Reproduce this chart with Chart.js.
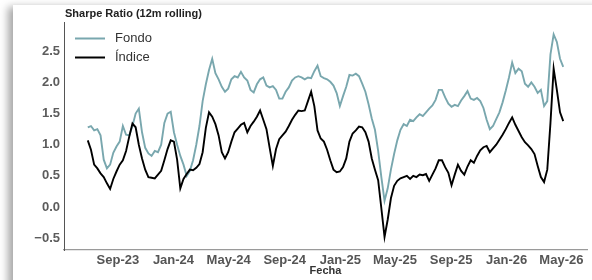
<!DOCTYPE html>
<html>
<head>
<meta charset="utf-8">
<script src="https://cdn.jsdelivr.net/npm/chart.js@4.4.1/dist/chart.umd.min.js"></script>
<style>
  html, body { margin: 0; padding: 0; background: #fff; width: 592px; height: 280px; overflow: hidden; }
  .card { position: absolute; left: 13px; top: 5px; width: 600px; height: 300px; background: #fff;
          box-shadow: -5px 2px 8px rgba(0,0,0,0.35); }
  .wrap { position: absolute; left: 0; top: 0; width: 592px; height: 280px; }
</style>
</head>
<body>
<div class="card"></div>
<div class="wrap"><canvas id="c" width="592" height="280"></canvas></div>
<script>
const chartTitle = 'Sharpe Ratio (12m rolling)';
const xAxisTitle = 'Fecha';
const seriesNames = ['Fondo', 'Índice'];

const dates = [
 '2023-06-27','2023-07-04','2023-07-11','2023-07-18','2023-07-25','2023-08-01','2023-08-08','2023-08-15','2023-08-22','2023-08-29',
 '2023-09-05','2023-09-12','2023-09-19','2023-09-26','2023-10-03','2023-10-10','2023-10-17','2023-10-24','2023-10-31','2023-11-07',
 '2023-11-14','2023-11-21','2023-11-28','2023-12-05','2023-12-12','2023-12-19','2023-12-26','2024-01-02','2024-01-09','2024-01-16',
 '2024-01-23','2024-01-30','2024-02-06','2024-02-13','2024-02-20','2024-02-27','2024-03-05','2024-03-12','2024-03-19','2024-03-26',
 '2024-04-02','2024-04-09','2024-04-16','2024-04-23','2024-04-30','2024-05-07','2024-05-14','2024-05-21','2024-05-28','2024-06-04',
 '2024-06-11','2024-06-18','2024-06-25','2024-07-02','2024-07-09','2024-07-16','2024-07-23','2024-07-30','2024-08-06','2024-08-13',
 '2024-08-20','2024-08-27','2024-09-03','2024-09-10','2024-09-17','2024-09-24','2024-10-01','2024-10-08','2024-10-15','2024-10-22',
 '2024-10-29','2024-11-05','2024-11-12','2024-11-19','2024-11-26','2024-12-03','2024-12-10','2024-12-17','2024-12-24','2024-12-31',
 '2025-01-07','2025-01-14','2025-01-21','2025-01-28','2025-02-04','2025-02-11','2025-02-18','2025-02-25','2025-03-04','2025-03-11',
 '2025-03-18','2025-03-25','2025-04-01','2025-04-08','2025-04-15','2025-04-22','2025-04-29','2025-05-06','2025-05-13','2025-05-20',
 '2025-05-27','2025-06-03','2025-06-10','2025-06-17','2025-06-24','2025-07-01','2025-07-08','2025-07-15','2025-07-22','2025-07-29',
 '2025-08-05','2025-08-12','2025-08-19','2025-08-26','2025-09-02','2025-09-09','2025-09-16','2025-09-23','2025-09-30','2025-10-07',
 '2025-10-14','2025-10-21','2025-10-28','2025-11-04','2025-11-11','2025-11-18','2025-11-25','2025-12-02','2025-12-09','2025-12-16',
 '2025-12-23','2025-12-30','2026-01-06','2026-01-13','2026-01-20','2026-01-27','2026-02-03','2026-02-10','2026-02-17','2026-02-24',
 '2026-03-03','2026-03-10','2026-03-17','2026-03-24','2026-03-31','2026-04-07','2026-04-14','2026-04-21','2026-04-28','2026-05-05'
];

const fondo = [
 1.28,1.30,1.23,1.25,1.15,0.76,0.62,0.68,0.87,0.97,
 1.05,1.30,1.16,1.15,1.30,1.50,1.58,1.20,0.95,0.86,
 0.82,0.90,0.88,1.00,1.35,1.50,1.53,1.20,1.00,0.82,
 0.68,0.50,0.58,0.75,1.00,1.30,1.70,1.97,2.20,2.38,
 2.15,2.05,1.93,1.85,1.90,2.05,2.10,2.08,2.17,2.08,
 2.03,1.88,1.84,1.97,2.05,2.08,1.95,1.92,1.94,1.88,
 1.74,1.74,1.85,1.92,2.03,2.08,2.10,2.08,2.05,2.08,
 2.07,2.18,2.27,2.10,2.07,2.05,2.01,1.95,1.83,1.62,
 1.78,1.93,2.12,2.11,2.14,2.10,1.98,1.85,1.65,1.42,
 1.24,0.90,0.48,0.10,0.30,0.60,0.85,1.07,1.24,1.33,
 1.30,1.40,1.38,1.44,1.49,1.46,1.52,1.58,1.63,1.72,
 1.88,1.88,1.76,1.66,1.61,1.64,1.62,1.71,1.78,1.86,
 1.74,1.72,1.75,1.70,1.59,1.40,1.25,1.30,1.41,1.52,
 1.68,1.87,2.08,2.32,2.15,2.22,2.18,1.98,1.93,2.00,
 1.93,1.83,1.88,1.62,1.70,2.45,2.77,2.65,2.38,2.25
];

const indice = [
 1.07,0.92,0.68,0.62,0.54,0.48,0.38,0.29,0.45,0.57,
 0.68,0.75,0.90,1.13,1.34,1.28,1.00,0.78,0.60,0.48,
 0.47,0.46,0.52,0.58,0.75,0.93,1.07,1.05,0.76,0.30,
 0.45,0.53,0.60,0.59,0.63,0.69,0.88,1.27,1.52,1.45,
 1.33,1.15,0.88,0.78,0.88,1.05,1.20,1.26,1.32,1.35,
 1.20,1.30,1.37,1.45,1.55,1.40,1.25,0.95,0.66,0.93,
 1.09,1.15,1.21,1.30,1.40,1.48,1.55,1.54,1.55,1.70,
 1.85,1.62,1.23,1.10,1.05,0.92,0.75,0.60,0.56,0.57,
 0.64,0.78,1.05,1.18,1.23,1.29,1.28,1.20,1.05,0.78,
 0.60,0.43,-0.02,-0.48,-0.20,0.14,0.34,0.42,0.46,0.48,
 0.50,0.45,0.50,0.48,0.52,0.51,0.53,0.42,0.52,0.62,
 0.75,0.75,0.64,0.55,0.35,0.52,0.68,0.58,0.52,0.65,
 0.75,0.71,0.82,0.91,0.96,0.98,0.88,0.94,1.00,1.08,
 1.16,1.25,1.35,1.44,1.32,1.22,1.12,1.04,0.99,0.93,
 0.85,0.66,0.48,0.40,0.60,1.35,2.22,1.88,1.52,1.38
];

const tickDates  = ['2023-09-01','2024-01-01','2024-05-01','2024-09-01','2025-01-01','2025-05-01','2025-09-01','2026-01-01','2026-05-01'];
const tickLabels = ['Sep-23','Jan-24','May-24','Sep-24','Jan-25','May-25','Sep-25','Jan-26','May-26'];
const yTicks = [-0.5, 0, 0.5, 1.0, 1.5, 2.0, 2.5];

const toDay = s => Date.parse(s + 'T00:00:00Z') / 86400000;
const xs = dates.map(toDay);
const span = xs[xs.length - 1] - xs[0];
const xMin = xs[0] - 0.05 * span, xMax = xs[xs.length - 1] + 0.05 * span;

const FONT = '"Liberation Sans", Arial, sans-serif';
const colors = ['#79a7ae', '#000000'];

const overlay = {
  id: 'overlay',
  afterDraw(chart) {
    const ctx = chart.ctx, a = chart.chartArea;
    ctx.save();
    ctx.fillStyle = '#222';
    ctx.font = 'bold 11px ' + FONT;
    ctx.textBaseline = 'middle';
    ctx.textAlign = 'left';
    ctx.fillText(chartTitle, a.left + 1, 13.5);
    ctx.font = '13px ' + FONT;
    const rows = [38.5, 57.5];
    chart.data.datasets.forEach((ds, i) => {
      const y = rows[i];
      ctx.strokeStyle = ds.borderColor;
      ctx.lineWidth = 2;
      ctx.beginPath();
      ctx.moveTo(a.left + 11, y);
      ctx.lineTo(a.left + 41, y);
      ctx.stroke();
      ctx.fillStyle = '#333';
      ctx.fillText(ds.label, a.left + 51, y);
    });
    ctx.restore();
  }
};

new Chart(document.getElementById('c'), {
  type: 'line',
  data: {
    datasets: [
      { label: seriesNames[0], data: xs.map((x, i) => ({ x, y: fondo[i] })), borderColor: colors[0], borderWidth: 1.9, pointRadius: 0, tension: 0, order: 1 },
      { label: seriesNames[1], data: xs.map((x, i) => ({ x, y: indice[i] })), borderColor: colors[1], borderWidth: 1.9, pointRadius: 0, tension: 0, order: 0 }
    ]
  },
  options: {
    responsive: false,
    animation: false,
    devicePixelRatio: 1,
    layout: { padding: { top: 22, right: 5, left: 0, bottom: 0 } },
    plugins: { legend: { display: false }, tooltip: { enabled: false }, title: { display: false } },
    scales: {
      x: {
        type: 'linear', min: xMin, max: xMax,
        afterFit: s => { s.height = 30; },
        afterBuildTicks: s => { s.ticks = tickDates.map(d => ({ value: toDay(d) })); },
        grid: { display: false, drawTicks: false },
        border: { display: true, color: '#9a9a9a', width: 1.2 },
        ticks: { padding: 3, color: '#555', font: { family: FONT, size: 13, weight: 'bold' }, maxRotation: 0, autoSkip: false,
                 callback: (v, i) => tickLabels[i] },
        title: { display: true, text: xAxisTitle, color: '#333', font: { family: FONT, size: 11, weight: 'bold' }, padding: { top: 0, bottom: 2 } }
      },
      y: {
        type: 'linear', min: -0.69, max: 2.97,
        afterFit: s => { s.width = 64; },
        afterBuildTicks: s => { s.ticks = yTicks.map(v => ({ value: v })); },
        grid: { display: false, drawTicks: false },
        border: { display: true, color: '#555', width: 1 },
        ticks: { padding: 4, color: '#5c5c5c', font: { family: FONT, size: 13, weight: 'bold' },
                 callback: v => (v < 0 ? '\u2212' : '') + Math.abs(v).toFixed(1) }
      }
    }
  },
  plugins: [overlay]
});
</script>
</body>
</html>
